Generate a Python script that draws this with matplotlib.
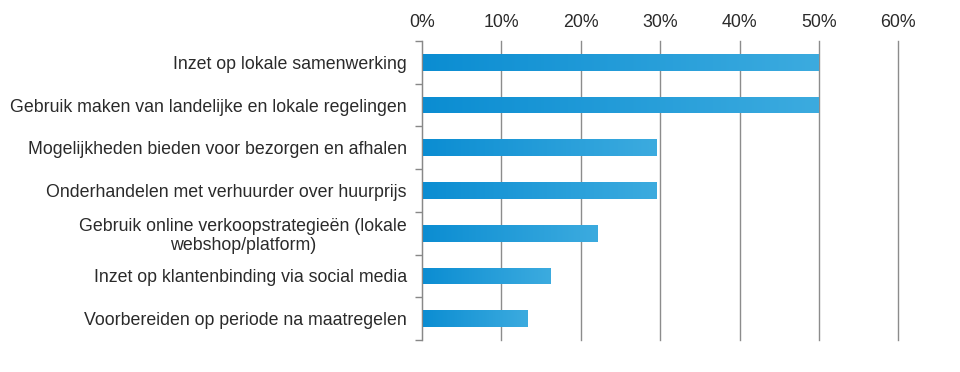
import numpy as np
import matplotlib
matplotlib.use("Agg")
import matplotlib.pyplot as plt
from matplotlib.colors import LinearSegmentedColormap
from matplotlib.ticker import FixedLocator

categories = [
    "Inzet op lokale samenwerking",
    "Gebruik maken van landelijke en lokale regelingen",
    "Mogelijkheden bieden voor bezorgen en afhalen",
    "Onderhandelen met verhuurder over huurprijs",
    "Gebruik online verkoopstrategieën (lokale\nwebshop/platform)",
    "Inzet op klantenbinding via social media",
    "Voorbereiden op periode na maatregelen",
]
values = [50.0, 50.0, 29.5, 29.5, 22.1, 16.2, 13.3]
xticks = [0, 10, 20, 30, 40, 50, 60]
xticklabels = ["0%", "10%", "20%", "30%", "40%", "50%", "60%"]

plt.rcParams['font.family'] = ['Liberation Sans', 'DejaVu Sans']

fig = plt.figure(figsize=(9.6, 3.72), dpi=100)
ax = fig.add_axes([422/960, 1-340/372, (898.3-422)/960, (340-41)/372])

cmap = LinearSegmentedColormap.from_list("g", ["#0b8dd2", "#3cabdf"])
pos = np.arange(len(categories))
bars = ax.barh(pos, values, height=0.39, color="#1f9bd8", zorder=2)
grad = np.linspace(0, 1, 256).reshape(1, -1)
for b in bars:
    x0, y0 = b.get_x(), b.get_y()
    w, h = b.get_width(), b.get_height()
    im = ax.imshow(grad, cmap=cmap, aspect='auto', extent=[x0, x0 + w, y0, y0 + h],
                   origin='lower', zorder=3)
    im.set_clip_path(b)

ax.set_xlim(0, 60)
ax.set_ylim(len(categories) - 0.5, -0.5)
ax.xaxis.tick_top()
ax.set_xticks(xticks)
ax.set_xticklabels(xticklabels, fontsize=12.8, color="#2a2a2a")
ax.tick_params(axis='x', length=0, pad=7)
ax.set_yticks(pos)
ax.set_yticklabels(categories, fontsize=12.8, color="#2a2a2a", ha='right',
                   multialignment='center', linespacing=1.1)
ax.tick_params(axis='y', which='major', length=0, pad=11)
ax.yaxis.set_minor_locator(FixedLocator(np.arange(-0.5, len(categories), 1.0)))
ax.tick_params(axis='y', which='minor', length=5, color="#888888", width=1)
ax.grid(axis='x', color="#8c8c8c", linewidth=1, zorder=0)
for gl in ax.get_xgridlines():
    gl.set_clip_on(False)
for s in ['top', 'right', 'bottom']:
    ax.spines[s].set_visible(False)
ax.spines['left'].set_color("#888888")
ax.spines['left'].set_zorder(4)
ax.set_axisbelow(True)

fig.savefig("out.png", dpi=100)
